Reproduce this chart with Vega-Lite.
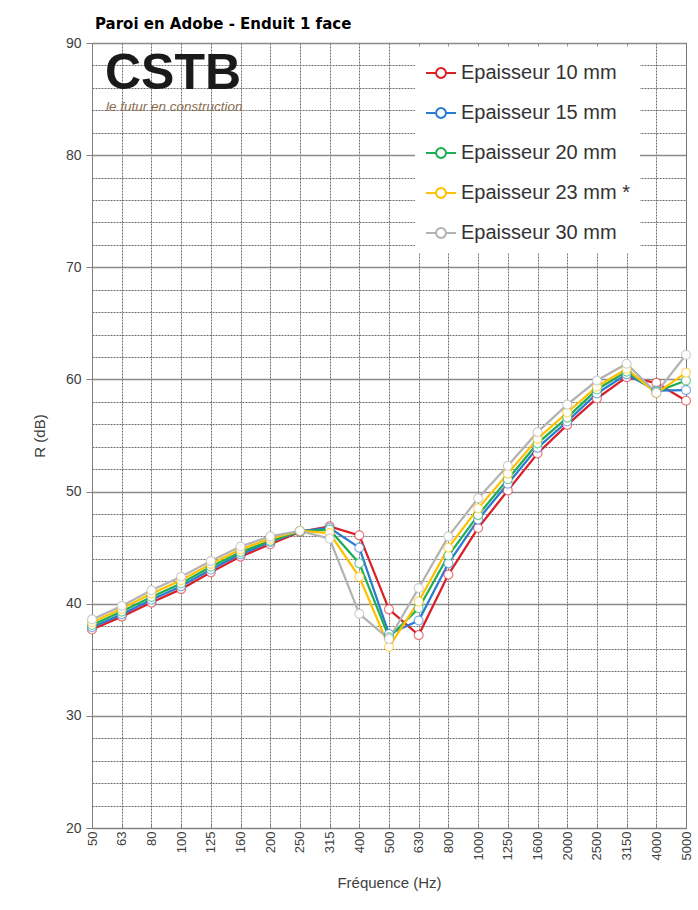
{
  "$schema": "https://vega.github.io/schema/vega-lite/v6.json",
  "width": 594,
  "height": 785,
  "autosize": {"type": "none"},
  "padding": {"left": 92, "top": 43, "right": 12, "bottom": 82},
  "background": "white",
  "title": {
    "text": "Paroi en Adobe - Enduit 1 face",
    "anchor": "start",
    "frame": "group",
    "font": "DejaVu Sans",
    "fontSize": 15,
    "fontWeight": "bold",
    "color": "#000000",
    "offset": 4,
    "dx": 3
  },
  "config": {
    "view": {"stroke": "#808080", "strokeWidth": 1},
    "font": "Liberation Sans"
  },
  "datasets": {
    "mesures": [
      {"f": "50", "s": "Epaisseur 10 mm", "r": 37.7},
      {"f": "63", "s": "Epaisseur 10 mm", "r": 38.85},
      {"f": "80", "s": "Epaisseur 10 mm", "r": 40.1},
      {"f": "100", "s": "Epaisseur 10 mm", "r": 41.3},
      {"f": "125", "s": "Epaisseur 10 mm", "r": 42.8},
      {"f": "160", "s": "Epaisseur 10 mm", "r": 44.2},
      {"f": "200", "s": "Epaisseur 10 mm", "r": 45.3},
      {"f": "250", "s": "Epaisseur 10 mm", "r": 46.4},
      {"f": "315", "s": "Epaisseur 10 mm", "r": 46.9},
      {"f": "400", "s": "Epaisseur 10 mm", "r": 46.1},
      {"f": "500", "s": "Epaisseur 10 mm", "r": 39.5},
      {"f": "630", "s": "Epaisseur 10 mm", "r": 37.2},
      {"f": "800", "s": "Epaisseur 10 mm", "r": 42.6},
      {"f": "1000", "s": "Epaisseur 10 mm", "r": 46.75},
      {"f": "1250", "s": "Epaisseur 10 mm", "r": 50.1},
      {"f": "1600", "s": "Epaisseur 10 mm", "r": 53.4},
      {"f": "2000", "s": "Epaisseur 10 mm", "r": 55.95},
      {"f": "2500", "s": "Epaisseur 10 mm", "r": 58.3},
      {"f": "3150", "s": "Epaisseur 10 mm", "r": 60.2},
      {"f": "4000", "s": "Epaisseur 10 mm", "r": 59.7},
      {"f": "5000", "s": "Epaisseur 10 mm", "r": 58.1},

      {"f": "50", "s": "Epaisseur 15 mm", "r": 37.9},
      {"f": "63", "s": "Epaisseur 15 mm", "r": 39.05},
      {"f": "80", "s": "Epaisseur 15 mm", "r": 40.35},
      {"f": "100", "s": "Epaisseur 15 mm", "r": 41.55},
      {"f": "125", "s": "Epaisseur 15 mm", "r": 43.05},
      {"f": "160", "s": "Epaisseur 15 mm", "r": 44.4},
      {"f": "200", "s": "Epaisseur 15 mm", "r": 45.5},
      {"f": "250", "s": "Epaisseur 15 mm", "r": 46.45},
      {"f": "315", "s": "Epaisseur 15 mm", "r": 46.75},
      {"f": "400", "s": "Epaisseur 15 mm", "r": 45.0},
      {"f": "500", "s": "Epaisseur 15 mm", "r": 37.3},
      {"f": "630", "s": "Epaisseur 15 mm", "r": 38.5},
      {"f": "800", "s": "Epaisseur 15 mm", "r": 43.6},
      {"f": "1000", "s": "Epaisseur 15 mm", "r": 47.5},
      {"f": "1250", "s": "Epaisseur 15 mm", "r": 50.7},
      {"f": "1600", "s": "Epaisseur 15 mm", "r": 53.9},
      {"f": "2000", "s": "Epaisseur 15 mm", "r": 56.25},
      {"f": "2500", "s": "Epaisseur 15 mm", "r": 58.75},
      {"f": "3150", "s": "Epaisseur 15 mm", "r": 60.45},
      {"f": "4000", "s": "Epaisseur 15 mm", "r": 59.0},
      {"f": "5000", "s": "Epaisseur 15 mm", "r": 59.05},

      {"f": "50", "s": "Epaisseur 20 mm", "r": 38.1},
      {"f": "63", "s": "Epaisseur 20 mm", "r": 39.3},
      {"f": "80", "s": "Epaisseur 20 mm", "r": 40.6},
      {"f": "100", "s": "Epaisseur 20 mm", "r": 41.8},
      {"f": "125", "s": "Epaisseur 20 mm", "r": 43.3},
      {"f": "160", "s": "Epaisseur 20 mm", "r": 44.6},
      {"f": "200", "s": "Epaisseur 20 mm", "r": 45.6},
      {"f": "250", "s": "Epaisseur 20 mm", "r": 46.45},
      {"f": "315", "s": "Epaisseur 20 mm", "r": 46.6},
      {"f": "400", "s": "Epaisseur 20 mm", "r": 43.6},
      {"f": "500", "s": "Epaisseur 20 mm", "r": 37.0},
      {"f": "630", "s": "Epaisseur 20 mm", "r": 39.6},
      {"f": "800", "s": "Epaisseur 20 mm", "r": 44.3},
      {"f": "1000", "s": "Epaisseur 20 mm", "r": 47.9},
      {"f": "1250", "s": "Epaisseur 20 mm", "r": 51.1},
      {"f": "1600", "s": "Epaisseur 20 mm", "r": 54.3},
      {"f": "2000", "s": "Epaisseur 20 mm", "r": 56.6},
      {"f": "2500", "s": "Epaisseur 20 mm", "r": 59.1},
      {"f": "3150", "s": "Epaisseur 20 mm", "r": 60.7},
      {"f": "4000", "s": "Epaisseur 20 mm", "r": 58.9},
      {"f": "5000", "s": "Epaisseur 20 mm", "r": 59.9},

      {"f": "50", "s": "Epaisseur 23 mm *", "r": 38.35},
      {"f": "63", "s": "Epaisseur 23 mm *", "r": 39.55},
      {"f": "80", "s": "Epaisseur 23 mm *", "r": 40.9},
      {"f": "100", "s": "Epaisseur 23 mm *", "r": 42.1},
      {"f": "125", "s": "Epaisseur 23 mm *", "r": 43.55},
      {"f": "160", "s": "Epaisseur 23 mm *", "r": 44.85},
      {"f": "200", "s": "Epaisseur 23 mm *", "r": 45.8},
      {"f": "250", "s": "Epaisseur 23 mm *", "r": 46.5},
      {"f": "315", "s": "Epaisseur 23 mm *", "r": 46.3},
      {"f": "400", "s": "Epaisseur 23 mm *", "r": 42.4},
      {"f": "500", "s": "Epaisseur 23 mm *", "r": 36.15},
      {"f": "630", "s": "Epaisseur 23 mm *", "r": 40.2},
      {"f": "800", "s": "Epaisseur 23 mm *", "r": 45.0},
      {"f": "1000", "s": "Epaisseur 23 mm *", "r": 48.5},
      {"f": "1250", "s": "Epaisseur 23 mm *", "r": 51.6},
      {"f": "1600", "s": "Epaisseur 23 mm *", "r": 54.7},
      {"f": "2000", "s": "Epaisseur 23 mm *", "r": 57.05},
      {"f": "2500", "s": "Epaisseur 23 mm *", "r": 59.35},
      {"f": "3150", "s": "Epaisseur 23 mm *", "r": 60.95},
      {"f": "4000", "s": "Epaisseur 23 mm *", "r": 58.75},
      {"f": "5000", "s": "Epaisseur 23 mm *", "r": 60.6},

      {"f": "50", "s": "Epaisseur 30 mm", "r": 38.6},
      {"f": "63", "s": "Epaisseur 30 mm", "r": 39.8},
      {"f": "80", "s": "Epaisseur 30 mm", "r": 41.2},
      {"f": "100", "s": "Epaisseur 30 mm", "r": 42.4},
      {"f": "125", "s": "Epaisseur 30 mm", "r": 43.8},
      {"f": "160", "s": "Epaisseur 30 mm", "r": 45.1},
      {"f": "200", "s": "Epaisseur 30 mm", "r": 46.0},
      {"f": "250", "s": "Epaisseur 30 mm", "r": 46.5},
      {"f": "315", "s": "Epaisseur 30 mm", "r": 45.8},
      {"f": "400", "s": "Epaisseur 30 mm", "r": 39.1},
      {"f": "500", "s": "Epaisseur 30 mm", "r": 36.85},
      {"f": "630", "s": "Epaisseur 30 mm", "r": 41.4},
      {"f": "800", "s": "Epaisseur 30 mm", "r": 46.0},
      {"f": "1000", "s": "Epaisseur 30 mm", "r": 49.4},
      {"f": "1250", "s": "Epaisseur 30 mm", "r": 52.3},
      {"f": "1600", "s": "Epaisseur 30 mm", "r": 55.3},
      {"f": "2000", "s": "Epaisseur 30 mm", "r": 57.75},
      {"f": "2500", "s": "Epaisseur 30 mm", "r": 59.9},
      {"f": "3150", "s": "Epaisseur 30 mm", "r": 61.4},
      {"f": "4000", "s": "Epaisseur 30 mm", "r": 58.8},
      {"f": "5000", "s": "Epaisseur 30 mm", "r": 62.2}
    ],
    "logo": [
      {"f": "50", "r": 85.9, "t": "CSTB"}
    ],
    "slogan": [
      {"f": "50", "r": 84.95, "t": "le futur en construction"}
    ]
  },
  "data": {"name": "mesures"},
  "encoding": {
    "x": {
      "field": "f",
      "type": "ordinal",
      "sort": ["50","63","80","100","125","160","200","250","315","400","500","630","800","1000","1250","1600","2000","2500","3150","4000","5000"],
      "scale": {"type": "point", "padding": 0},
      "axis": {
        "title": "Fréquence (Hz)",
        "titleFont": "Liberation Sans",
        "titleFontSize": 15,
        "titleFontWeight": "normal",
        "titleColor": "#404040",
        "titlePadding": 16,
        "labelAngle": -90,
        "labelFont": "Liberation Sans",
        "labelFontSize": 13,
        "labelColor": "#404040",
        "labelPadding": 7,
        "domainColor": "#808080",
        "domainWidth": 1,
        "tickColor": "#808080",
        "tickSize": -4,
        "grid": true,
        "gridColor": "#707070",
        "gridDash": [2, 1],
        "gridWidth": 1
      }
    },
    "y": {
      "field": "r",
      "type": "quantitative",
      "scale": {"domain": [20, 90], "nice": false, "zero": false},
      "axis": {
        "title": "R (dB)",
        "titleFont": "Liberation Sans",
        "titleFontSize": 15,
        "titleFontWeight": "normal",
        "titleColor": "#404040",
        "titlePadding": 18,
        "values": [20,22,24,26,28,30,32,34,36,38,40,42,44,46,48,50,52,54,56,58,60,62,64,66,68,70,72,74,76,78,80,82,84,86,88,90],
        "labelExpr": "datum.value % 10 === 0 ? datum.label : ''",
        "labelFont": "Liberation Sans",
        "labelFontSize": 14,
        "labelColor": "#404040",
        "labelPadding": 5,
        "domainColor": "#808080",
        "tickColor": "#808080",
        "tickSize": {"condition": {"test": "datum.value % 10 === 0", "value": 6}, "value": 0},
        "grid": true,
        "gridColor": {"condition": {"test": "datum.value % 10 === 0", "value": "#8a8a8a"}, "value": "#707070"},
        "gridDash": {"condition": {"test": "datum.value % 10 === 0", "value": []}, "value": [2, 1]},
        "gridWidth": {"condition": {"test": "datum.value % 10 === 0", "value": 1.5}, "value": 1}
      }
    }
  },
  "layer": [
    {
      "data": {"name": "logo"},
      "mark": {"type": "text", "font": "Liberation Sans", "fontWeight": "bold", "fontSize": 50, "align": "left", "baseline": "alphabetic", "dx": 13, "color": "#1a1a1a"},
      "encoding": {"text": {"field": "t"}}
    },
    {
      "data": {"name": "slogan"},
      "mark": {"type": "text", "font": "Liberation Sans", "fontStyle": "italic", "fontSize": 13.5, "align": "left", "baseline": "top", "dx": 14, "color": "#8c6d4f"},
      "encoding": {"text": {"field": "t"}}
    },
    {
      "mark": {"type": "line", "strokeWidth": 2.25},
      "encoding": {
        "color": {
          "field": "s",
          "type": "nominal",
          "sort": ["Epaisseur 10 mm", "Epaisseur 15 mm", "Epaisseur 20 mm", "Epaisseur 23 mm *", "Epaisseur 30 mm"],
          "scale": {"range": ["#DA2128", "#2A7BD3", "#1DAE55", "#FFC000", "#B3B3B3"]},
          "legend": {
            "title": null,
            "orient": "none",
            "legendX": 323,
            "legendY": 4,
            "padding": 10,
            "fillColor": "white",
            "symbolType": "M-1,0H-0.33M0.33,0H1M-0.33,0A0.33,0.33 0 1,0 0.33,0A0.33,0.33 0 1,0 -0.33,0Z",
            "symbolSize": 900,
            "symbolStrokeWidth": 2,
            "symbolFillColor": "white",
            "labelFont": "Liberation Sans",
            "labelFontSize": 20,
            "labelColor": "#333333",
            "labelOffset": 4,
            "rowPadding": 14,
            "labelLimit": 300
          }
        }
      }
    },
    {
      "mark": {"type": "point", "shape": "circle", "filled": false, "fill": "white", "fillOpacity": 1, "size": 80, "strokeWidth": 1.2, "strokeOpacity": 0.6, "opacity": 1},
      "encoding": {
        "color": {
          "field": "s",
          "type": "nominal",
          "sort": ["Epaisseur 10 mm", "Epaisseur 15 mm", "Epaisseur 20 mm", "Epaisseur 23 mm *", "Epaisseur 30 mm"]
        }
      }
    }
  ]
}
